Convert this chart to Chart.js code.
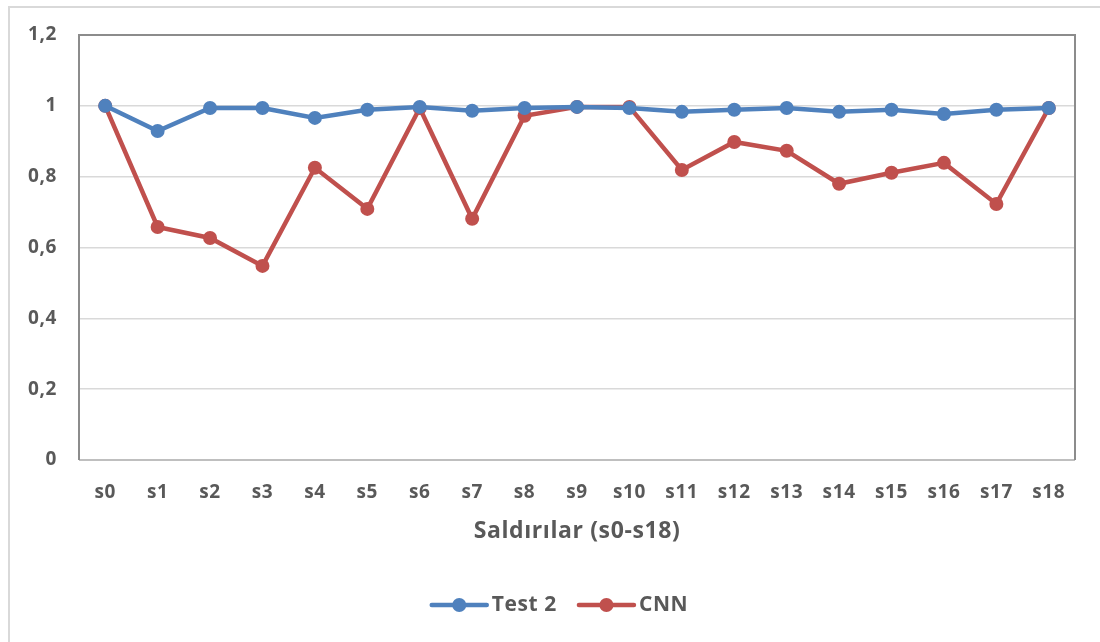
<!DOCTYPE html>
<html>
<head>
<meta charset="utf-8">
<script src="https://cdn.jsdelivr.net/npm/chart.js@4/dist/chart.umd.min.js"></script>
<style>
  html, body { margin: 0; padding: 0; background: #ffffff; }
  #wrap { position: relative; width: 1100px; height: 642px; overflow: hidden; }
  #frame { position: absolute; left: 8px; top: 6px; width: 1200px; height: 800px;
           border-left: 2px solid #d9d9d9; border-top: 2px solid #d9d9d9; box-sizing: border-box; }
  canvas { position: absolute; left: 0; top: 0; }
</style>
</head>
<body>
<div id="wrap">
  <div id="frame"></div>
  <canvas id="c" width="1100" height="642"></canvas>
</div>
<script>
const categories = ['s0','s1','s2','s3','s4','s5','s6','s7','s8','s9','s10','s11','s12','s13','s14','s15','s16','s17','s18'];
const test2Values = [1.0, 0.929, 0.994, 0.994, 0.966, 0.989, 0.997, 0.986, 0.994, 0.997, 0.994, 0.983, 0.989, 0.994, 0.983, 0.989, 0.977, 0.989, 0.994];
const cnnValues   = [1.0, 0.658, 0.627, 0.548, 0.825, 0.709, 0.994, 0.681, 0.972, 0.997, 0.997, 0.819, 0.898, 0.873, 0.780, 0.811, 0.839, 0.723, 0.994];
const seriesNames = ['Test 2', 'CNN'];
const yTicks = [0, 0.2, 0.4, 0.6, 0.8, 1.0, 1.2];
const xTitle = 'Saldırılar (s0-s18)';

const BLUE = '#4f81bd';
const RED = '#c0504d';
const TEXT = '#595959';
const FONT = '"Open Sans", Lato, sans-serif';

// Slightly looser letter spacing for all chart text
const textSpacing = {
  id: 'textSpacing',
  beforeDraw(chart) { chart.ctx.letterSpacing = '0.6px'; }
};

// Plot-area frame (left/top/right darker, bottom lighter) and the custom legend
const plotFrame = {
  id: 'plotFrame',
  beforeDatasetsDraw(chart) {
    const { ctx, chartArea: a } = chart;
    ctx.save();
    ctx.strokeStyle = '#bfbfbf';
    ctx.lineWidth = 2;
    ctx.beginPath();
    ctx.moveTo(a.left, a.bottom);
    ctx.lineTo(a.right, a.bottom);
    ctx.stroke();
    ctx.strokeStyle = '#8c8c8c';
    ctx.beginPath();
    ctx.moveTo(a.left, a.bottom);
    ctx.lineTo(a.left, a.top);
    ctx.lineTo(a.right, a.top);
    ctx.lineTo(a.right, a.bottom);
    ctx.stroke();
    ctx.restore();
  },
  afterDraw(chart) {
    const { ctx } = chart;
    const sets = chart.data.datasets;
    ctx.save();
    ctx.font = 'bold 21px ' + FONT;
    ctx.textBaseline = 'middle';
    const y = 605;
    const lineLen = 55, gap = 5, between = 22;
    const widths = sets.map(d => lineLen + gap + ctx.measureText(d.label).width);
    const total = widths.reduce((s, w) => s + w, 0) + between * (sets.length - 1);
    let x = 560 - total / 2;
    sets.forEach((d, i) => {
      ctx.strokeStyle = d.borderColor;
      ctx.lineWidth = 4.5;
      ctx.lineCap = 'round';
      ctx.beginPath();
      ctx.moveTo(x, y);
      ctx.lineTo(x + lineLen, y);
      ctx.stroke();
      ctx.fillStyle = d.backgroundColor;
      ctx.beginPath();
      ctx.arc(x + lineLen / 2, y, 7, 0, Math.PI * 2);
      ctx.fill();
      ctx.fillStyle = TEXT;
      ctx.textAlign = 'left';
      ctx.fillText(d.label, x + lineLen + gap, y);
      x += widths[i] + between;
    });
    ctx.restore();
  }
};

new Chart(document.getElementById('c'), {
  type: 'line',
  data: {
    labels: categories,
    datasets: [
      { label: seriesNames[0], data: test2Values, borderColor: BLUE, backgroundColor: BLUE,
        borderWidth: 4.5, pointRadius: 7, pointHoverRadius: 7, pointBorderWidth: 0, tension: 0 },
      { label: seriesNames[1], data: cnnValues, borderColor: RED, backgroundColor: RED,
        borderWidth: 4.5, pointRadius: 7, pointHoverRadius: 7, pointBorderWidth: 0, tension: 0 }
    ]
  },
  options: {
    responsive: false,
    animation: false,
    devicePixelRatio: 1,
    layout: { padding: { left: 8, top: 35, right: 25, bottom: 97 } },
    plugins: { legend: { display: false }, tooltip: { enabled: false } },
    scales: {
      x: {
        offset: true,
        grid: { display: false, drawTicks: false },
        border: { display: false },
        ticks: { color: TEXT, font: { family: FONT, size: 19, weight: 'bold' }, padding: 21, maxRotation: 0, autoSkip: false },
        title: { display: true, text: xTitle, color: TEXT, font: { family: FONT, size: 23, weight: 'bold' }, padding: { top: 4, bottom: 0 } },
        afterFit(scale) { scale.height = 85; }
      },
      y: {
        min: 0, max: 1.2,
        afterBuildTicks(scale) { scale.ticks = yTicks.map(v => ({ value: v })); },
        grid: { color: '#d9d9d9', lineWidth: 1.5, drawTicks: false },
        border: { display: false },
        ticks: {
          color: TEXT, font: { family: FONT, size: 19, weight: 'bold' }, padding: 22,
          callback: v => String(Math.round(v * 10) / 10).replace('.', ',')
        },
        afterFit(scale) { scale.width = 71; }
      }
    }
  },
  plugins: [textSpacing, plotFrame]
});
</script>
</body>
</html>
